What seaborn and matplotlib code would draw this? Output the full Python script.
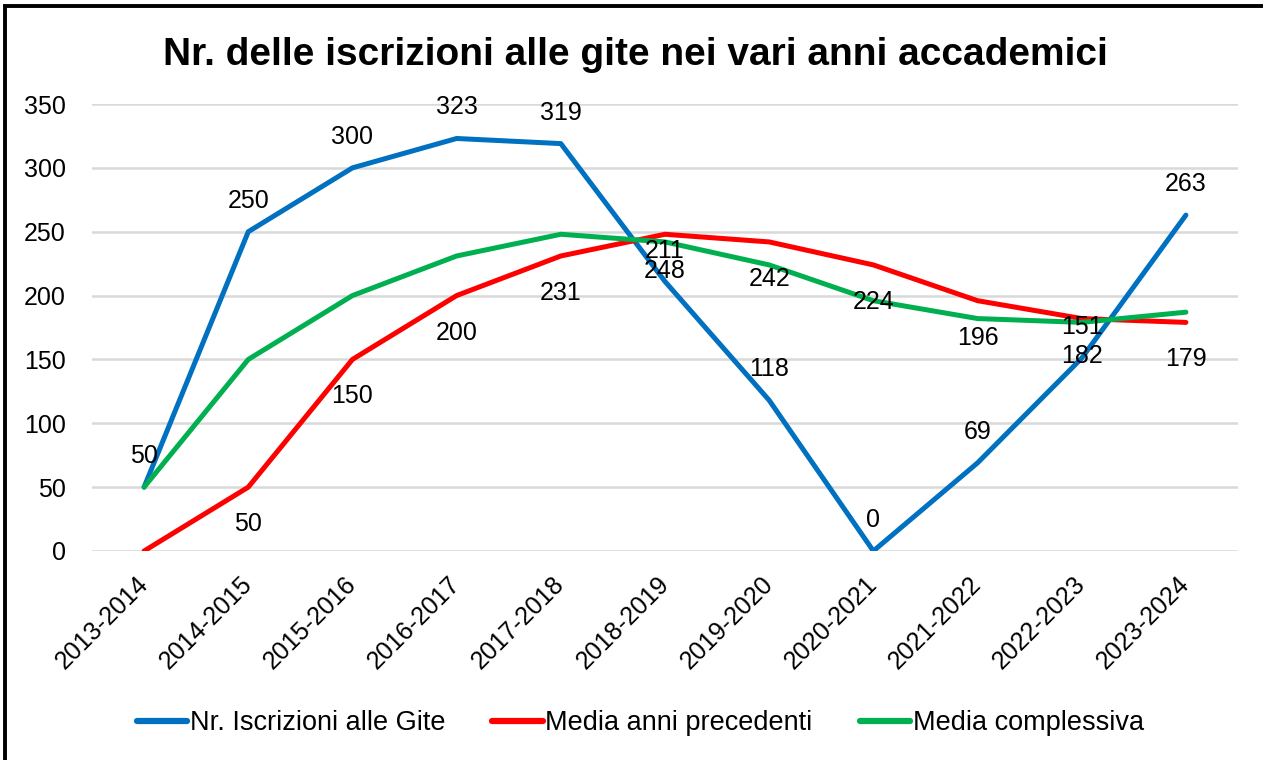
import pandas as pd
import matplotlib.pyplot as plt
import seaborn as sns
from matplotlib.patches import Rectangle

# Data
anni = ["2013-2014", "2014-2015", "2015-2016", "2016-2017", "2017-2018", "2018-2019",
        "2019-2020", "2020-2021", "2021-2022", "2022-2023", "2023-2024"]
iscrizioni = [50, 250, 300, 323, 319, 211, 118, 0, 69, 151, 263]
media_prec = [0, 50, 150, 200, 231, 248, 242, 224, 196, 182, 179]
media_compl = [50, 150, 200, 231, 248, 242, 224, 196, 182, 179, 187]

serie = ["Nr. Iscrizioni alle Gite", "Media anni precedenti", "Media complessiva"]
colori = ["#0070C0", "#FF0000", "#00B050"]

df = pd.DataFrame({
    "Anno": anni * 3,
    "Valore": iscrizioni + media_prec + media_compl,
    "Serie": [serie[0]] * len(anni) + [serie[1]] * len(anni) + [serie[2]] * len(anni),
})

sns.set_style("white")
plt.rcParams['font.family'] = ['Liberation Sans', 'DejaVu Sans']
plt.rcParams['text.color'] = 'black'
plt.rcParams['xtick.color'] = 'black'
plt.rcParams['ytick.color'] = 'black'

fig = plt.figure(figsize=(12.63, 7.6), dpi=100)
ax = fig.add_axes([92/1263, 1 - 551/760, (1238-92)/1263, (551-104)/760])

sns.lineplot(data=df, x="Anno", y="Valore", hue="Serie", palette=colori,
             hue_order=serie, linewidth=3.6, sort=False, legend=False, ax=ax)

ax.set_xlim(-0.5, len(anni) - 0.5)
ax.set_ylim(0, 350)
ax.set_yticks(range(0, 351, 50))
ax.grid(axis='y', color='#D9D9D9', linewidth=1.8)
ax.set_axisbelow(True)
for s in ax.spines.values():
    s.set_visible(False)
ax.set_xlabel("")
ax.set_ylabel("")
ax.tick_params(axis='y', length=0, pad=19, labelsize=18)
ax.tick_params(axis='x', length=0, pad=21, labelsize=18)
plt.setp(ax.get_xticklabels(), rotation=45, ha='right', va='center', rotation_mode='anchor')

# data labels
for i, v in enumerate(iscrizioni):
    ax.annotate(str(v), (i, v), xytext=(0, 31), textcoords='offset pixels',
                ha='center', va='center', fontsize=18)
for i, v in enumerate(media_prec):
    if i == 0:
        continue
    ax.annotate(str(v), (i, v), xytext=(0, -37), textcoords='offset pixels',
                ha='center', va='center', fontsize=18)

fig.suptitle("Nr. delle iscrizioni alle gite nei vari anni accademici",
             x=0.503, y=1 - 65/760, va='baseline', fontsize=28, fontweight='bold')

handles = [plt.Line2D([], [], color=c, linewidth=4.5) for c in colori]
fig.legend(handles, serie, loc='center', bbox_to_anchor=(0.507, 1 - 723/760), ncol=3,
           frameon=False, fontsize=19.5, handlelength=1.85, handletextpad=0.1,
           columnspacing=1.75)

fig.patches.append(Rectangle((5/1263, -0.1), 1.2, 1.1 - 6/760, transform=fig.transFigure,
                             fill=False, edgecolor='black', linewidth=2.8))

plt.savefig("out.png", dpi=100)
